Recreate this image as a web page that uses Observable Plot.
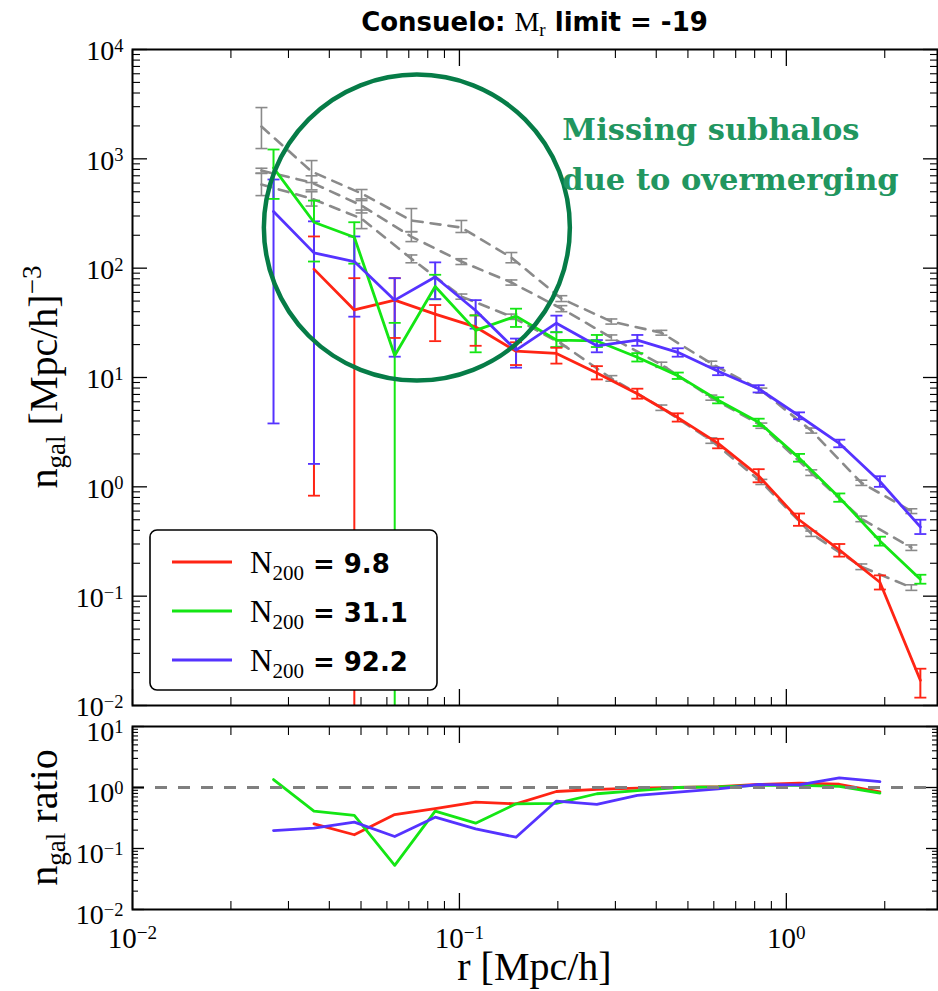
<!DOCTYPE html>
<html>
<head>
<meta charset="utf-8">
<script src="https://cdn.jsdelivr.net/npm/d3@7"></script>
<script src="https://cdn.jsdelivr.net/npm/@observablehq/plot@0.6"></script>
<style>
  body { margin: 0; background: #fff; }
  #fig { position: relative; width: 938px; height: 991px; }
  #fig svg { position: absolute; left: 0; overflow: visible; max-width: none; }
</style>
</head>
<body>
<div id="fig"></div>
<script>
// ---------------- data ----------------
// radial bins of the measured galaxy number-density profiles [Mpc/h]
const radius = [0.0270, 0.0359, 0.0477, 0.0634, 0.0843, 0.1121, 0.149, 0.198, 0.2633,
                0.3501, 0.4655, 0.6186, 0.8228, 1.0935, 1.452, 1.933, 2.57];

// mean halo occupation of each stack
const n200Labels = ["9.8", "31.1", "92.2"];
const lineColors = ["#ff2414", "#14e614", "#5533ff"];

// n_gal profiles with their error-bar limits (0 = bar reaches zero)
const nGalLow  = [null, 98, 41.5, 51, 38, 29, 17.4, 16.6, 11, 7.1, 4.3, 2.5, 1.26, 0.50, 0.265, 0.134, 0.017];
const errLoLow = [null, 0.83, 0, 23, 21.5, 19.5, 13, 13.4, 9.6, 6.4, 3.95, 2.25, 1.1, 0.44, 0.23, 0.115, 0.0118];
const errHiLow = [null, 195, 81, 81, 46, 37, 21, 18.7, 12.7, 7.9, 4.7, 2.75, 1.45, 0.57, 0.30, 0.155, 0.0217];

const nGalMid  = [828, 263, 192, 15.9, 68, 27, 36.4, 22, 21.6, 15.3, 10.4, 6.2, 3.9, 1.84, 0.80, 0.32, 0.143];
const errLoMid = [430, 115, 110, 0, 52, 17, 29, 19, 19, 14, 9.7, 5.8, 3.6, 1.7, 0.73, 0.29, 0.13];
const errHiMid = [1217, 415, 263, 31.6, 87, 37, 42.6, 26, 24.5, 16.7, 11.1, 6.6, 4.2, 2.0, 0.87, 0.35, 0.157];

const nGalHigh  = [330, 138, 115, 51, 83, 41, 17.8, 31.4, 19.5, 22, 17, 11.4, 7.9, 4.47, 2.5, 1.12, 0.43];
const errLoHigh = [3.8, 1.62, 36, 15.5, 52, 28, 12.3, 25.9, 17, 19.5, 15.5, 10.5, 7.3, 4.15, 2.3, 1.0, 0.37];
const errHiHigh = [647, 268, 195, 81, 113, 51, 22.7, 36.8, 22, 24.5, 18.5, 12.3, 8.5, 4.8, 2.7, 1.25, 0.5];

// reference profiles (grey dashed), one per stack
const refRadius = [0.0248, 0.0353, 0.0502, 0.0713, 0.1014, 0.1442, 0.205, 0.2916, 0.4147,
                   0.5897, 0.8386, 1.192, 1.696, 2.412];
const refLow   = [582, 433, 284, 122, 55, 36, 20.4, 9.8, 5.3, 2.65, 1.11, 0.373, 0.186, 0.120];
const refLowLo = [461, 370, 230, 112, 52, 34, 19.2, 9.25, 5.0, 2.5, 1.05, 0.352, 0.175, 0.113];
const refLowHi = [735, 500, 340, 132, 58, 38, 21.6, 10.4, 5.6, 2.8, 1.17, 0.394, 0.197, 0.127];
const refMid   = [781, 607, 374, 194, 115, 74, 42.7, 23.2, 13.1, 6.55, 3.63, 1.35, 0.51, 0.278];
const refMidLo = [740, 520, 320, 175, 108, 70, 40, 21.9, 12.4, 6.2, 3.43, 1.27, 0.48, 0.262];
const refMidHi = [820, 700, 430, 215, 122, 78, 45.4, 24.5, 13.8, 6.9, 3.83, 1.43, 0.54, 0.294];
const refHigh   = [1975, 765, 482, 273, 235, 125, 52.7, 32.5, 25.7, 13.4, 7.6, 3.27, 1.09, 0.60];
const refHighLo = [1242, 607, 415, 216, 212, 112, 49.5, 30.8, 24.4, 12.7, 7.2, 3.1, 1.03, 0.57];
const refHighHi = [2944, 964, 524, 351, 273, 139, 56, 34.3, 27, 14.1, 8.0, 3.45, 1.15, 0.63];

// ratio of measured to reference profile
const ratioLow  = [null, 0.254, 0.168, 0.36, 0.45, 0.575, 0.54, 0.86, 0.93, 0.98, 1.0, 1.03, 1.12, 1.18, 1.13, 0.85];
const ratioMid  = [1.35, 0.41, 0.35, 0.053, 0.41, 0.26, 0.54, 0.55, 0.79, 0.89, 1.0, 1.02, 1.08, 1.08, 1.04, 0.81];
const ratioHigh = [0.197, 0.215, 0.27, 0.157, 0.326, 0.21, 0.153, 0.60, 0.53, 0.74, 0.84, 0.95, 1.12, 1.10, 1.44, 1.25];

// overmerging zone and its note
const zoneCentre = [{r: 0.0741, n: 235}];
const zoneNote = [{r: 0.2065, n: 1229, text: "Missing subhalos\ndue to overmerging"}];

// axis ticks
const xDomain = [0.01, 2.9];
const xMajor = [0.01, 0.1, 1];
const xMinor = [0.02, 0.03, 0.04, 0.05, 0.06, 0.07, 0.08, 0.09,
                0.2, 0.3, 0.4, 0.5, 0.6, 0.7, 0.8, 0.9, 2];
const yMajorTop = [1e-2, 1e-1, 1, 10, 100, 1e3, 1e4];
const yMinorTop = yMajorTop.slice(0, -1).flatMap(d => [2, 3, 4, 5, 6, 7, 8, 9].map(k => +(k * d).toPrecision(3)));
const yMajorBottom = [1e-2, 1e-1, 1, 10];
const yMinorBottom = yMajorBottom.slice(0, -1).flatMap(d => [2, 3, 4, 5, 6, 7, 8, 9].map(k => +(k * d).toPrecision(3)));

// ---------------- tidy tables ----------------
const measured = [];
[[nGalLow, errLoLow, errHiLow], [nGalMid, errLoMid, errHiMid], [nGalHigh, errLoHigh, errHiHigh]]
  .forEach(([n, lo, hi], s) => n.forEach((v, i) => {
    if (v != null) measured.push({series: n200Labels[s], r: radius[i], n: v, lo: lo[i], hi: hi[i]});
  }));

const reference = [];
[[refLow, refLowLo, refLowHi], [refMid, refMidLo, refMidHi], [refHigh, refHighLo, refHighHi]]
  .forEach(([n, lo, hi], s) => n.forEach((v, i) =>
    reference.push({series: n200Labels[s], r: refRadius[i], n: v, lo: lo[i], hi: hi[i]})));

const ratios = [];
[ratioLow, ratioMid, ratioHigh].forEach((q, s) => q.forEach((v, i) => {
  if (v != null) ratios.push({series: n200Labels[s], r: radius[i], q: v});
}));

// bars reaching zero are sent below the axis and clipped
const BELOW_AXIS = 1e-4;
const barLow = d => (d.lo > 0 ? d.lo : BELOW_AXIS);
const capsLo = measured.filter(d => d.lo > 0);

// horizontal cap for error bars
const capSymbol = {draw(ctx, size) { const w = Math.sqrt(size / Math.PI); ctx.moveTo(-w, 0); ctx.lineTo(w, 0); }};

const serif = "Liberation Serif";
const sansBold = "DejaVu Sans";
const grey = "#8a8a8a";

function logLabel(d) { return `10^${Math.round(Math.log10(d))}`; }
const blank = () => "";

// inward ticks on all four sides
function frameTicks(yMajor, yMinor, yMajLen, yMinLen) {
  const marks = [];
  for (const anchor of ["left", "right"]) {
    marks.push(Plot.axisY({anchor, ticks: yMajor, tickSize: -yMajLen, tickFormat: blank, label: null, strokeWidth: 1.3}));
    marks.push(Plot.axisY({anchor, ticks: yMinor, tickSize: -yMinLen, tickFormat: blank, label: null, strokeWidth: 1.1}));
  }
  for (const anchor of ["top", "bottom"]) {
    marks.push(Plot.axisX({anchor, ticks: xMajor, tickSize: -16, tickFormat: blank, label: null, strokeWidth: 1.3}));
    marks.push(Plot.axisX({anchor, ticks: xMinor, tickSize: -8, tickFormat: blank, label: null, strokeWidth: 1.1}));
  }
  return marks;
}

// ---------------- upper panel ----------------
const upperPanel = Plot.plot({
  width: 938, height: 716,
  marginLeft: 132, marginRight: 1, marginTop: 49, marginBottom: 11,
  style: {background: "transparent", overflow: "visible"},
  x: {type: "log", domain: xDomain},
  y: {type: "log", domain: [1e-2, 1e4]},
  color: {domain: n200Labels, range: lineColors},
  marks: [
    Plot.line(reference, {x: "r", y: "n", z: "series", stroke: grey, strokeWidth: 2.6, strokeDasharray: "10,8", clip: true}),
    Plot.ruleX(reference, {x: "r", y1: "lo", y2: "hi", stroke: grey, strokeWidth: 1.6, clip: true}),
    Plot.dot(reference, {x: "r", y: "lo", symbol: capSymbol, r: 6, fill: "none", stroke: grey, strokeWidth: 1.6, clip: true}),
    Plot.dot(reference, {x: "r", y: "hi", symbol: capSymbol, r: 6, fill: "none", stroke: grey, strokeWidth: 1.6, clip: true}),

    Plot.ruleX(measured, {x: "r", y1: barLow, y2: "hi", stroke: "series", strokeWidth: 2, clip: true}),
    Plot.dot(capsLo, {x: "r", y: "lo", symbol: capSymbol, r: 6, fill: "none", stroke: "series", strokeWidth: 1.8, clip: true}),
    Plot.dot(measured, {x: "r", y: "hi", symbol: capSymbol, r: 6, fill: "none", stroke: "series", strokeWidth: 1.8, clip: true}),
    Plot.line(measured, {x: "r", y: "n", z: "series", stroke: "series", strokeWidth: 2.8, clip: true}),

    Plot.dot(zoneCentre, {x: "r", y: "n", r: 153, fill: "none", stroke: "#067c47", strokeWidth: 4.5}),
    Plot.text(zoneNote, {x: "r", y: "n", text: "text", fill: "#21965f", fontSize: 30.5, fontWeight: "bold",
                         fontFamily: "DejaVu Serif", lineHeight: 1.64, textAnchor: "start"}),

    ...frameTicks(yMajorTop, yMinorTop, 15, 8),
    Plot.axisY({anchor: "left", ticks: yMajorTop, tickSize: 0, tickPadding: 9, tickFormat: logLabel,
                fontSize: 28, fontFamily: serif, dy: 2, label: null}),
    Plot.frame({stroke: "black", strokeWidth: 2})
  ]
});

// ---------------- ratio panel ----------------
const ratioPanel = Plot.plot({
  width: 938, height: 275,
  marginLeft: 132, marginRight: 1, marginTop: 10, marginBottom: 82,
  style: {background: "transparent", overflow: "visible"},
  x: {type: "log", domain: xDomain},
  y: {type: "log", domain: [1e-2, 10]},
  color: {domain: n200Labels, range: lineColors},
  marks: [
    Plot.line(ratios, {x: "r", y: "q", z: "series", stroke: "series", strokeWidth: 2.8, clip: true}),
    Plot.ruleY([1], {stroke: "#7f7f7f", strokeWidth: 3, strokeDasharray: "12,11"}),
    ...frameTicks(yMajorBottom, yMinorBottom, 12, 6),
    Plot.axisY({anchor: "left", ticks: yMajorBottom, tickSize: 0, tickPadding: 9, tickFormat: logLabel,
                fontSize: 28, fontFamily: serif, dy: 6, label: null}),
    Plot.axisX({anchor: "bottom", ticks: xMajor, tickSize: 0, tickPadding: 18, tickFormat: logLabel,
                fontSize: 29, fontFamily: serif, label: null}),
    Plot.frame({stroke: "black", strokeWidth: 2})
  ]
});

// ---------------- text with sub/superscripts ----------------
function superscriptTicks(svg) {
  svg.querySelectorAll('g[aria-label$="tick label"] text').forEach(t => {
    const m = /^10\^(-?\d+)$/.exec(t.textContent);
    if (!m) return;
    t.textContent = "10";
    const s = document.createElementNS("http://www.w3.org/2000/svg", "tspan");
    s.setAttribute("dy", "-0.45em");
    s.setAttribute("font-size", "0.66em");
    s.textContent = m[1].replace("-", "\u2212");
    t.appendChild(s);
  });
}
superscriptTicks(upperPanel);
superscriptTicks(ratioPanel);

function richText(sel, x, y, parts, {rotate = 0, anchor = "middle", size = 36, family = serif} = {}) {
  const t = d3.select(sel).append("text")
    .attr("transform", `translate(${x},${y}) rotate(${rotate})`)
    .attr("text-anchor", anchor)
    .attr("font-family", family)
    .attr("font-size", size)
    .attr("fill", "black");
  for (const p of parts) {
    const s = t.append("tspan").text(p.text);
    if (p.dy) s.attr("dy", p.dy);
    if (p.size) s.attr("font-size", p.size);
    if (p.family) s.attr("font-family", p.family);
    if (p.weight) s.attr("font-weight", p.weight);
  }
  return t;
}

// axis labels
richText(upperPanel, 57, 377, [
  {text: "n"}, {text: "gal", size: 27, dy: 8}, {text: " [Mpc/h]", dy: -8}, {text: "\u22123", size: 27, dy: -16}
], {rotate: -90, size: 40});
richText(ratioPanel, 57, 101.5, [
  {text: "n"}, {text: "gal", size: 27, dy: 8}, {text: " ratio", dy: -8}
], {rotate: -90, size: 40});
richText(ratioPanel, 534.5, 264, [{text: "r [Mpc/h]"}], {size: 40});

// title
richText(upperPanel, 534.5, 31, [
  {text: "Consuelo: ", family: sansBold, weight: "bold", size: 26},
  {text: "M", size: 28},
  {text: "r", size: 19, dy: 5},
  {text: " limit = -19", family: sansBold, weight: "bold", size: 26, dy: -5}
], {size: 28});

// legend
{
  const g = d3.select(upperPanel).append("g");
  g.append("rect").attr("x", 150).attr("y", 530).attr("width", 287).attr("height", 160).attr("rx", 7)
    .attr("fill", "white").attr("stroke", "black").attr("stroke-width", 1.6);
  n200Labels.forEach((label, k) => {
    const cy = 562 + 49 * k;
    g.append("line").attr("x1", 172).attr("x2", 232).attr("y1", cy).attr("y2", cy)
      .attr("stroke", lineColors[k]).attr("stroke-width", 2.8);
    richText(g.node(), 250, cy + 11, [
      {text: "N"}, {text: "200", size: 21, dy: 7},
      {text: " = " + label, family: sansBold, weight: "bold", size: 26, dy: -7}
    ], {anchor: "start", size: 31});
  });
}

const fig = document.getElementById("fig");
upperPanel.style.top = "0px";
ratioPanel.style.top = "716px";
fig.append(upperPanel, ratioPanel);
</script>
</body>
</html>
